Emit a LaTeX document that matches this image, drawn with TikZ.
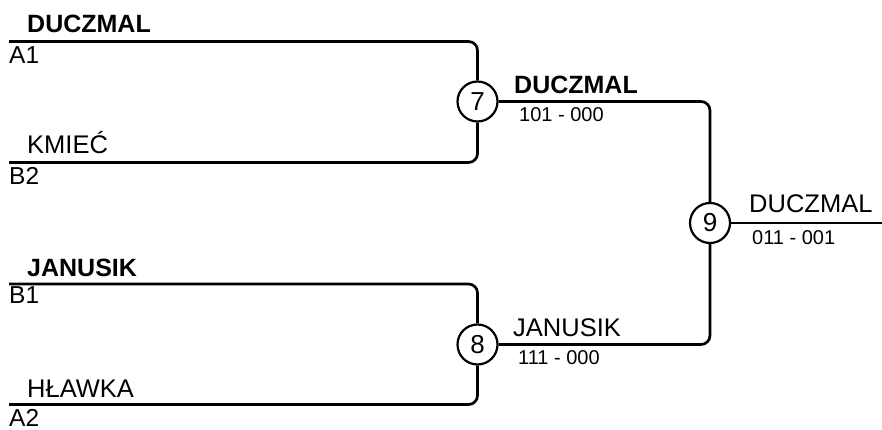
\documentclass[tikz,border=0pt]{standalone}
\usepackage{fontspec}
\setmainfont{Liberation Sans}
\begin{document}
\begin{tikzpicture}[x=1pt,y=-1pt,
 wire/.style={line width=2.7pt, rounded corners=9pt},
 match/.style={circle, draw, line width=2.2pt, minimum size=40pt, inner sep=0pt, font=\fontsize{26}{28}\selectfont, fill=white},
 player/.style={anchor=base west, inner sep=0pt, font=\fontsize{25.5}{28}\selectfont},
 winner/.style={anchor=base west, inner sep=0pt, font=\fontsize{25}{28}\selectfont\bfseries},
 slot/.style={anchor=base west, inner sep=0pt, font=\fontsize{24.5}{28}\selectfont},
 score/.style={anchor=base west, inner sep=0pt, font=\fontsize{20}{22}\selectfont}]
\useasboundingbox (0,0) rectangle (882,430);

% ends of lines
\coordinate (a1) at (9,41.5);
\coordinate (b2) at (9,162.5);
\coordinate (b1) at (9,284);
\coordinate (a2) at (9,404.5);
\coordinate (out) at (882,223);

% match circles
\node[match] (m7) at (477.5,101.5) {7};
\node[match] (m8) at (477.5,344.5) {8};
\node[match] (m9) at (710,223) {9};

% connectors
\draw[wire] (a1) -| (m7.north);
\draw[wire] (b2) -| (m7.south);
\draw[wire] (b1) -| (m8.north);
\draw[wire] (a2) -| (m8.south);
\draw[wire] (m7.east) -| (m9.north);
\draw[wire] (m8.east) -| (m9.south);
\draw[wire] (m9.east) -- (out);

% texts
\node[winner] (t1) at (27,33) {DUCZMAL};
\node[slot] (s1) at (9,63.5) {A1};
\node[player] (t2) at (27,154) {KMIEĆ};
\node[slot] (s2) at (9,185) {B2};
\node[winner] (t3) at (27,276.5) {JANUSIK};
\node[slot] (s3) at (9,303.5) {B1};
\node[player] (t4) at (27,397.5) {HŁAWKA};
\node[slot] (s4) at (9,426) {A2};

\node[winner] (w7) at (514,94) {DUCZMAL};
\node[score] (r7) at (519,122) {101 - 000};
\node[player] (w8) at (513,336) {JANUSIK};
\node[score] (r8) at (518,364) {111 - 000};
\node[player] (w9) at (749,212.5) {DUCZMAL};
\node[score] (r9) at (752,244) {011 - 001};
\end{tikzpicture}
\end{document}
